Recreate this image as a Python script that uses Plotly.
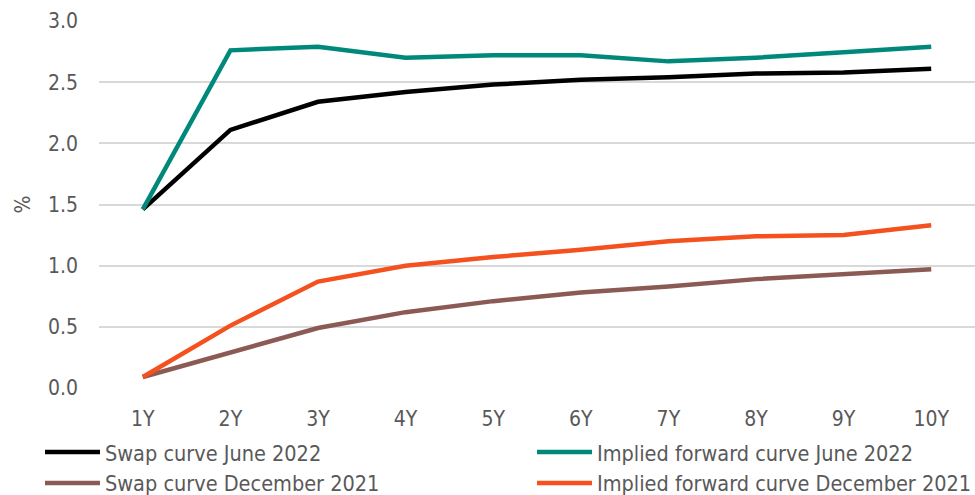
import plotly.graph_objects as go

tenors = ["1Y", "2Y", "3Y", "4Y", "5Y", "6Y", "7Y", "8Y", "9Y", "10Y"]
swap_jun22 = [1.46, 2.11, 2.34, 2.42, 2.48, 2.52, 2.54, 2.57, 2.58, 2.61]
fwd_jun22 = [1.46, 2.76, 2.79, 2.70, 2.72, 2.72, 2.67, 2.70, 2.745, 2.79]
swap_dec21 = [0.09, 0.29, 0.49, 0.62, 0.71, 0.78, 0.83, 0.89, 0.93, 0.97]
fwd_dec21 = [0.09, 0.51, 0.87, 1.00, 1.07, 1.13, 1.20, 1.24, 1.25, 1.33]

y_ticks = [0.0, 0.5, 1.0, 1.5, 2.0, 2.5, 3.0]

# (name, values, colour, legend column)
series = [
    ("Swap curve June 2022", swap_jun22, "#000000", "legend"),
    ("Implied forward curve June 2022", fwd_jun22, "#00897b", "legend2"),
    ("Swap curve December 2021", swap_dec21, "#8c5a55", "legend"),
    ("Implied forward curve December 2021", fwd_dec21, "#f4511e", "legend2"),
]

FONT = "DejaVu Sans Condensed, sans-serif"
GREY = "#595959"

fig = go.Figure()
for name, vals, color, leg in series:
    fig.add_trace(go.Scatter(
        x=tenors, y=vals, name=name, mode="lines",
        line=dict(color=color, width=4.5),
        legend=leg, legendgroup=name,
    ))

legend_common = dict(
    orientation="v", xanchor="left", yanchor="top",
    xref="container", yref="container", y=0.128,
    itemwidth=55, tracegroupgap=0,
    bgcolor="rgba(0,0,0,0)",
    font=dict(family=FONT, size=21.5, color=GREY),
)

fig.update_layout(
    width=975, height=495,
    margin=dict(l=99, r=0, t=21, b=107, autoexpand=False),
    paper_bgcolor="white", plot_bgcolor="white",
    font=dict(family=FONT, size=21, color=GREY),
    showlegend=True,
    legend=dict(x=40 / 975, **legend_common),
    legend2=dict(x=532 / 975, **legend_common),
    xaxis=dict(
        type="category", range=[-0.5, 9.5],
        showgrid=False, showline=False, zeroline=False,
        ticks="", ticklabelstandoff=16,
        tickfont=dict(family=FONT, size=21, color=GREY),
    ),
    yaxis=dict(
        range=[0, 3.0], tickvals=y_ticks, ticktext=[f"{v:.1f}" for v in y_ticks],
        showgrid=True, gridcolor="#d9d9d9", gridwidth=1.5,
        zeroline=False, showline=False, ticks="", ticklabelstandoff=20,
        tickfont=dict(family=FONT, size=21, color=GREY),
    ),
    annotations=[dict(
        text="%", textangle=-90, showarrow=False,
        xref="paper", yref="paper", x=-77 / 876, y=0.5,
        xanchor="center", yanchor="middle",
        font=dict(family=FONT, size=21, color=GREY),
    )],
)

fig.write_html("out.html")
